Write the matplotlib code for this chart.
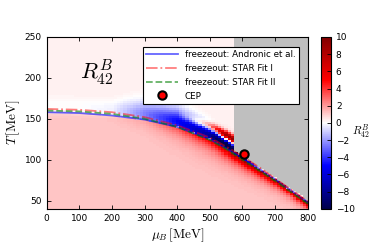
import matplotlib
matplotlib.use('Agg')
import matplotlib.pyplot as plt
import numpy as np

# freezeout curves / transition line (mu_B, T in MeV)
mu_pts = [0, 100, 200, 300, 400, 500, 550, 600, 650, 700, 750, 800]
T_andronic = [158, 157, 154, 149, 140, 125, 114, 102, 89, 76, 62, 48]
T_star1 = [162, 161, 158, 152, 142, 127, 116, 104, 91, 77, 63, 49]
T_star2 = [160, 159, 156, 150, 140, 124, 113, 100, 87, 74, 60, 46]

# critical end point
cep_mu = [605]
cep_T = [107]

# R42 levels around the transition line, read at mu_pts
val_below = 1.1        # hadronic side, far from line
val_above = 0.3        # far above line
red_amp = [0, 0, 0.3, 1.0, 3, 5.5, 7.5, 9.5, 9.5, 9.5, 9.5, 9.5]
red_width = [4, 4, 6, 8, 10, 10, 9, 8, 7, 6, 5, 5]
blue_amp = [0, 0, -0.3, -2.5, -5, -8, -12, -12, 0, 0, 0, 0]
blue_width = [10, 10, 12, 16, 16, 12, 7, 5, 4, 4, 4, 4]
streak_amp = [0, 0, 0, 0, 0, 5, 9, 9, 0, 0, 0, 0]
mask_mu = 575          # gray (no data) region above the line for mu > mask_mu

# grid for the map
mu_grid = np.arange(0, 801, 10)
T_grid = np.arange(40, 251, 2.5)
MU, TT = np.meshgrid(mu_grid, T_grid)

Tc = np.interp(MU, mu_pts, T_andronic)
d = TT - Tc
ra = np.interp(MU, mu_pts, red_amp)
rw = np.interp(MU, mu_pts, red_width)
ba = np.interp(MU, mu_pts, blue_amp)
bw = np.interp(MU, mu_pts, blue_width)
sa = np.interp(MU, mu_pts, streak_amp)

step = 1.0 / (1.0 + np.exp(-d / 1.5))
R = val_below * (1 - step) + val_above * step
R = R - val_above * np.exp(-((d - 8) / 10.0) ** 2) * step
R = R + np.where(d < 0, ra * np.exp(d / rw), 0)
R = R + np.where(d > 0, ba * np.exp(-((d - 0.4 * bw) / bw) ** 2), 0)
R = R + sa * np.exp(-((d - 16) / 5.0) ** 2)
R = np.clip(R, -10, 10)
R = np.ma.masked_where((MU >= mask_mu) & (d > 1.5), R)

cmap = plt.get_cmap('seismic').copy()
cmap.set_bad('0.75')

plt.rcParams['xtick.direction'] = 'in'
plt.rcParams['ytick.direction'] = 'in'
plt.rcParams['mathtext.fontset'] = 'cm'

fig = plt.figure(figsize=(3.73, 2.46), dpi=100)
ax = fig.add_axes([0.1252, 0.1516, 0.6997, 0.698])
cax = fig.add_axes([0.8606, 0.1516, 0.0268, 0.698])

im = ax.pcolormesh(mu_grid, T_grid, R, cmap=cmap, vmin=-10, vmax=10,
                   shading='nearest', rasterized=True)

ax.plot(mu_pts, T_andronic, color='b', alpha=0.6, lw=1.3,
        label='freezeout: Andronic et al.')
ax.plot(mu_pts, T_star1, color='r', alpha=0.5, lw=1.3, ls='-.',
        label='freezeout: STAR Fit I')
ax.plot(mu_pts, T_star2, color='g', alpha=0.6, lw=1.3, ls='--',
        label='freezeout: STAR Fit II')
ax.plot(cep_mu, cep_T, 'o', color='red', mec='black', mew=1.5, ms=6,
        ls='none', label='CEP')

ax.set_xlim(0, 800)
ax.set_ylim(40, 250)
ax.set_xticks(np.arange(0, 801, 100))
ax.set_yticks([50, 100, 150, 200, 250])
ax.tick_params(labelsize=6.5, top=True, right=True, length=3, width=0.6)
for s in ax.spines.values():
    s.set_linewidth(0.8)
ax.set_xlabel(r'$\mu_B\,[\mathrm{MeV}]$', fontsize=9.5, labelpad=3)
ax.set_ylabel(r'$T\,[\mathrm{MeV}]$', fontsize=9.5, labelpad=2)

ax.text(155, 207, r'$R^B_{42}$', fontsize=16, ha='center', va='center')

leg = ax.legend(loc='upper right', bbox_to_anchor=(0.967, 0.944),
                borderaxespad=0, fontsize=6.3, fancybox=False,
                edgecolor='black', framealpha=1, numpoints=1,
                handlelength=3.6, labelspacing=0.55)
leg.get_frame().set_linewidth(0.8)

cb = fig.colorbar(im, cax=cax, ticks=np.arange(-10, 11, 2))
cb.ax.tick_params(labelsize=6.5, direction='in', length=3, width=0.6)
cb.outline.set_linewidth(0.8)
cb.set_label(r'$R^B_{42}$', rotation=0, fontsize=8, labelpad=4)

fig.savefig('out.png', dpi=100)
